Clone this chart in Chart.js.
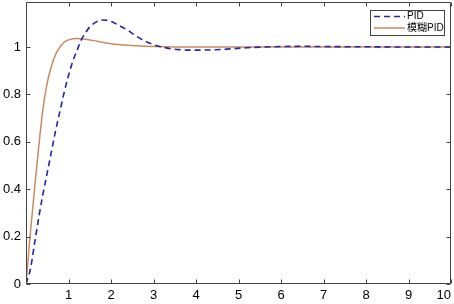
<!DOCTYPE html>
<html>
<head>
<meta charset="utf-8">
<script src="https://cdn.jsdelivr.net/npm/chart.js@4"></script>
<style>
  html, body { margin: 0; padding: 0; background: #fff; }
  #wrap { width: 454px; height: 304px; }
</style>
</head>
<body>
<div id="wrap"><canvas id="c" width="454" height="304"></canvas></div>
<script>
// time axis (s)
const tPid = [0, 0.1, 0.2, 0.3, 0.4, 0.5, 0.6, 0.7, 0.8, 0.9, 1.0, 1.1, 1.2, 1.3, 1.4, 1.5, 1.6, 1.7, 1.8, 1.9, 2.0,
    2.2, 2.4, 2.6, 2.8, 3.0, 3.2, 3.4, 3.6, 3.8, 4.0, 4.4, 4.8, 5.2, 5.6, 6.0, 6.5, 7, 8, 9, 10];
const pidVals = [0, 0.06, 0.17, 0.28, 0.38, 0.47, 0.56, 0.65, 0.73, 0.81, 0.88, 0.94, 0.985, 1.03, 1.06, 1.085, 1.1, 1.11, 1.114, 1.113, 1.108,
    1.09, 1.07, 1.045, 1.025, 1.01, 1.0, 0.993, 0.989, 0.987, 0.987, 0.988, 0.992, 0.997, 1.0, 1.002, 1.003, 1.002, 1.001, 1.0, 1.0];

const tFuzzy = [0, 0.1, 0.2, 0.3, 0.4, 0.5, 0.6, 0.7, 0.8, 0.9, 1.0, 1.2, 1.4, 1.6, 1.8, 2.0, 2.4, 2.8, 3.2, 4, 5, 6, 7, 8, 9, 10];
const fuzzyVals = [0, 0.21, 0.4, 0.58, 0.74, 0.85, 0.92, 0.97, 1.0, 1.02, 1.03, 1.036, 1.033, 1.027, 1.02, 1.014, 1.007, 1.003, 1.001, 1.0, 1.0, 1.0, 1.0, 1.0, 1.0, 1.0];

const seriesNames = ['PID', '模糊PID'];
const xTicks = [0, 1, 2, 3, 4, 5, 6, 7, 8, 9, 10];
const yTicks = [0, 0.2, 0.4, 0.6, 0.8, 1];

const toPoints = (ts, vs) => ts.map((t, i) => ({ x: t, y: vs[i] }));

// box around the plot with inward ticks, MATLAB style
const axesBox = {
    id: 'axesBox',
    afterDraw(chart) {
        const ctx = chart.ctx;
        const a = chart.chartArea;
        const xs = chart.scales.x, ys = chart.scales.y;
        const l = Math.round(a.left) + 0.5, r = Math.round(a.right) - 0.5;
        const t = Math.round(a.top) + 0.5, b = Math.round(a.bottom) - 0.5;
        ctx.save();
        ctx.strokeStyle = '#444';
        ctx.lineWidth = 1;
        ctx.beginPath();
        ctx.rect(l, t, r - l, b - t);
        xTicks.forEach(v => {
            const px = Math.round(xs.getPixelForValue(v)) + 0.5;
            ctx.moveTo(px, b); ctx.lineTo(px, b - 4);
            ctx.moveTo(px, t); ctx.lineTo(px, t + 4);
        });
        yTicks.forEach(v => {
            const py = Math.round(ys.getPixelForValue(v)) + 0.5;
            ctx.moveTo(l, py); ctx.lineTo(l + 4, py);
            ctx.moveTo(r, py); ctx.lineTo(r - 4, py);
        });
        ctx.stroke();
        ctx.restore();
    }
};

// legend box in the upper right corner
const boxLegend = {
    id: 'boxLegend',
    afterDraw(chart) {
        const ctx = chart.ctx;
        const x0 = 370.5, y0 = 10.5, w = 74, h = 25;
        ctx.save();
        ctx.fillStyle = '#fff';
        ctx.fillRect(x0, y0, w, h);
        ctx.strokeStyle = '#444';
        ctx.lineWidth = 1;
        ctx.strokeRect(x0, y0, w, h);
        ctx.font = '10px "Liberation Sans", "Noto Sans CJK SC", sans-serif';
        ctx.textBaseline = 'middle';
        chart.data.datasets.forEach((ds, i) => {
            const ly = 16.5 + i * 11.5;
            ctx.beginPath();
            ctx.strokeStyle = ds.borderColor;
            ctx.lineWidth = ds.borderWidth;
            ctx.setLineDash(ds.borderDash || []);
            ctx.moveTo(374, ly);
            ctx.lineTo(405, ly);
            ctx.stroke();
            ctx.setLineDash([]);
            ctx.fillStyle = '#000';
            ctx.fillText(ds.label, 407, ly);
        });
        ctx.restore();
    }
};

new Chart(document.getElementById('c'), {
    type: 'line',
    data: {
        datasets: [
            {
                label: seriesNames[0],
                data: toPoints(tPid, pidVals),
                borderColor: '#2424a8',
                borderWidth: 1.6,
                borderDash: [6, 4],
                pointRadius: 0,
                cubicInterpolationMode: 'monotone',
                fill: false
            },
            {
                label: seriesNames[1],
                data: toPoints(tFuzzy, fuzzyVals),
                borderColor: '#cc8a5e',
                borderWidth: 1.5,
                pointRadius: 0,
                cubicInterpolationMode: 'monotone',
                fill: false
            }
        ]
    },
    options: {
        responsive: false,
        animation: false,
        devicePixelRatio: 1,
        layout: { padding: { top: 2, right: 3, left: 0, bottom: 0 } },
        plugins: {
            legend: { display: false },
            tooltip: { enabled: false }
        },
        scales: {
            x: {
                type: 'linear',
                min: 0,
                max: 10,
                grid: { display: false, drawTicks: false },
                border: { display: false },
                ticks: {
                    stepSize: 1,
                    align: 'inner',
                    padding: 4,
                    maxRotation: 0,
                    color: '#000',
                    font: { family: '"Liberation Sans", Arial, sans-serif', size: 13 },
                    callback: v => (v === 0 ? '' : String(v))
                },
                afterFit(scale) {
                    scale.height = 20;
                    scale.paddingLeft = 0;
                    scale.paddingRight = 0;
                }
            },
            y: {
                type: 'linear',
                min: 0,
                max: 1.19,
                grid: { display: false, drawTicks: false },
                border: { display: false },
                ticks: {
                    stepSize: 0.2,
                    includeBounds: false,
                    padding: 5,
                    color: '#000',
                    font: { family: '"Liberation Sans", Arial, sans-serif', size: 13 },
                    callback: v => String(Math.round(v * 10) / 10)
                },
                afterFit(scale) {
                    scale.width = 26;
                    scale.paddingTop = 0;
                    scale.paddingBottom = 0;
                }
            }
        }
    },
    plugins: [axesBox, boxLegend]
});
</script>
</body>
</html>
